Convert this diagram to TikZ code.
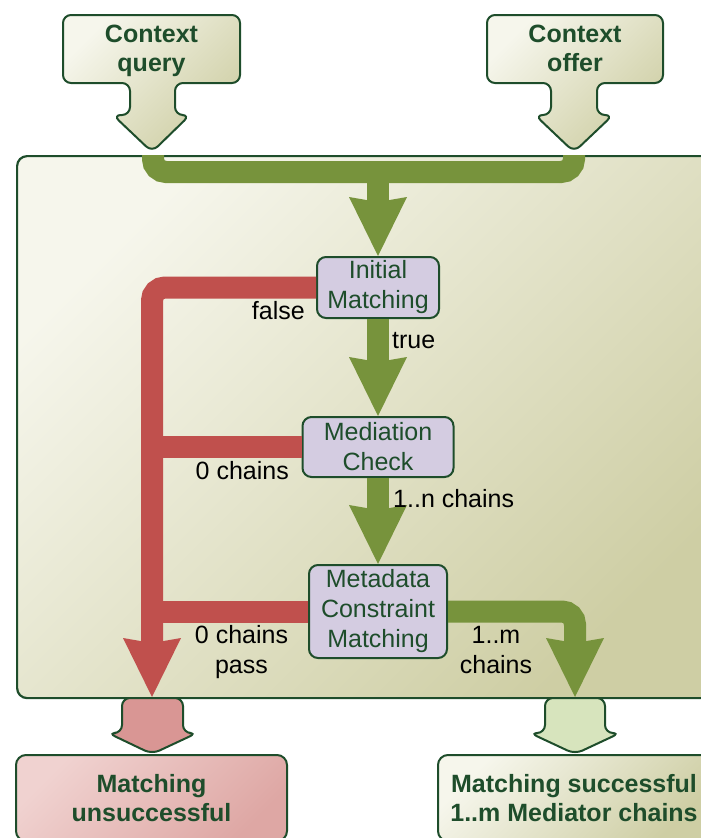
\documentclass[tikz,border=0pt]{standalone}
\usepackage{fontspec}
\setmainfont{Liberation Sans}
\usetikzlibrary{arrows.meta}
\definecolor{DarkGreen}{RGB}{30, 77, 43}
\definecolor{Olive}{RGB}{119, 147, 60}
\definecolor{Brick}{RGB}{192, 80, 77}
\definecolor{Lilac}{RGB}{212, 204, 225}
\definecolor{SandLight}{RGB}{246, 246, 236}
\definecolor{SandDark}{RGB}{206, 206, 164}
\definecolor{RoseLight}{RGB}{240, 210, 208}
\definecolor{RoseDark}{RGB}{222, 167, 164}
\definecolor{RoseStem}{RGB}{217, 150, 148}
\definecolor{MintStem}{RGB}{215, 228, 189}

\begin{document}
\begin{tikzpicture}[x=1pt, y=-1pt,
    >={Stealth[width=58pt, length=59pt, inset=5pt, line width=0pt]},
    every node/.style={font=\fontsize{25}{30}\selectfont, align=center, inner sep=0pt}]

      \tikzstyle{Step}=[rectangle, rounded corners=9pt, draw=DarkGreen, line width=2pt, fill=Lilac, text=DarkGreen];
      \tikzstyle{Title}=[font=\bfseries\fontsize{25}{29}\selectfont, text=DarkGreen];
      \tikzstyle{Callout}=[draw=DarkGreen, line width=2pt, rounded corners=8pt];
      \tikzstyle{Sand}=[left color=SandLight, right color=SandDark, shading angle=45];
      \tikzstyle{Yes}=[line width=22pt, draw=Olive, rounded corners=13pt];
      \tikzstyle{No}=[line width=22pt, draw=Brick, rounded corners=13pt];

      \useasboundingbox (0,0) rectangle (701,838);

        \node[rectangle, rounded corners=10pt, draw=DarkGreen, line width=2.2pt, Sand,
          minimum width=704pt, minimum height=542pt, anchor=north west](Panel) at (16,155) {};

        % inputs
        \draw[Callout, Sand] (63,15) -- (240,15) -- (240,83) -- (175,83) -- (175,115) -- (190,115)
          -- (152,152) -- (113,115) -- (130,115) -- (130,83) -- (63,83) -- cycle;
        \draw[Callout, Sand] (487,15) -- (663,15) -- (663,83) -- (597,83) -- (597,115) -- (613,115)
          -- (574,152) -- (535,115) -- (551,115) -- (551,83) -- (487,83) -- cycle;
        \node[Title, anchor=north](Query) at (151.5,25) {Context\\query};
        \node[Title, anchor=north](Offer) at (575,25) {Context\\offer};

        % outputs
        \node[rectangle, rounded corners=10pt, draw=DarkGreen, line width=2pt, Title,
          left color=RoseLight, right color=RoseDark, shading angle=45,
          minimum width=271pt, minimum height=86pt](Fail) at (151.5,798) {Matching\\unsuccessful};
        \node[rectangle, rounded corners=10pt, draw=DarkGreen, line width=2pt, Title, Sand,
          minimum width=272pt, minimum height=86pt](Success) at (574,798) {Matching successful\\1..m Mediator chains};
        \draw[Callout, fill=RoseStem] (122,698) -- (183,698) -- (183,733) -- (197,733)
          -- (152,754) -- (108,733) -- (122,733) -- cycle;
        \draw[Callout, fill=MintStem] (545,698) -- (605,698) -- (605,733) -- (620,733)
          -- (575,754) -- (530,733) -- (545,733) -- cycle;

        % matching steps
        \node[Step, minimum width=122pt, minimum height=61pt](Initial) at (378,287.5) {Initial\\Matching};
        \node[Step, minimum width=151pt, minimum height=60pt](Mediation) at (378,447) {Mediation\\Check};
        \node[Step, minimum width=138pt, minimum height=93pt](Metadata) at (378,611.5) {Metadata\\Constraint\\Matching};

        \coordinate (QueryIn) at (153,155);
        \coordinate (OfferIn) at (574,155);
        \coordinate (Merge) at (378,172);
        \coordinate (Passed) at (575,697);
        \coordinate (Failed) at (152,697);

        \draw[Yes] (QueryIn) |- (Merge) -| (OfferIn);
        \draw[->, Yes] (Merge) -- (Initial.north);
        \draw[->, Yes] (Initial.south) -- (Mediation.north);
        \draw[->, Yes] (Mediation.south) -- (Metadata.north);
        \draw[->, Yes] (Metadata.east) -| (Passed);

        \draw[->, No] (Initial.west) -| (Failed);
        \draw[No] (Mediation.west) -- (Mediation.west -| Failed);
        \draw[No] (Metadata.west) -- (Metadata.west -| Failed);

        \node[anchor=base east] (False) at (305,319) {false};
        \node[anchor=base west] (True) at (392,348) {true};
        \node[anchor=base east] (NoChain) at (289,479) {0 chains};
        \node[anchor=base west] (SomeChains) at (393,507) {1..n chains};
        \node[anchor=north] (Pass) at (241.5,625) {0 chains\\pass};
        \node[anchor=north] (MChains) at (496,626) {1..m\\chains};

    \end{tikzpicture}
\end{document}
